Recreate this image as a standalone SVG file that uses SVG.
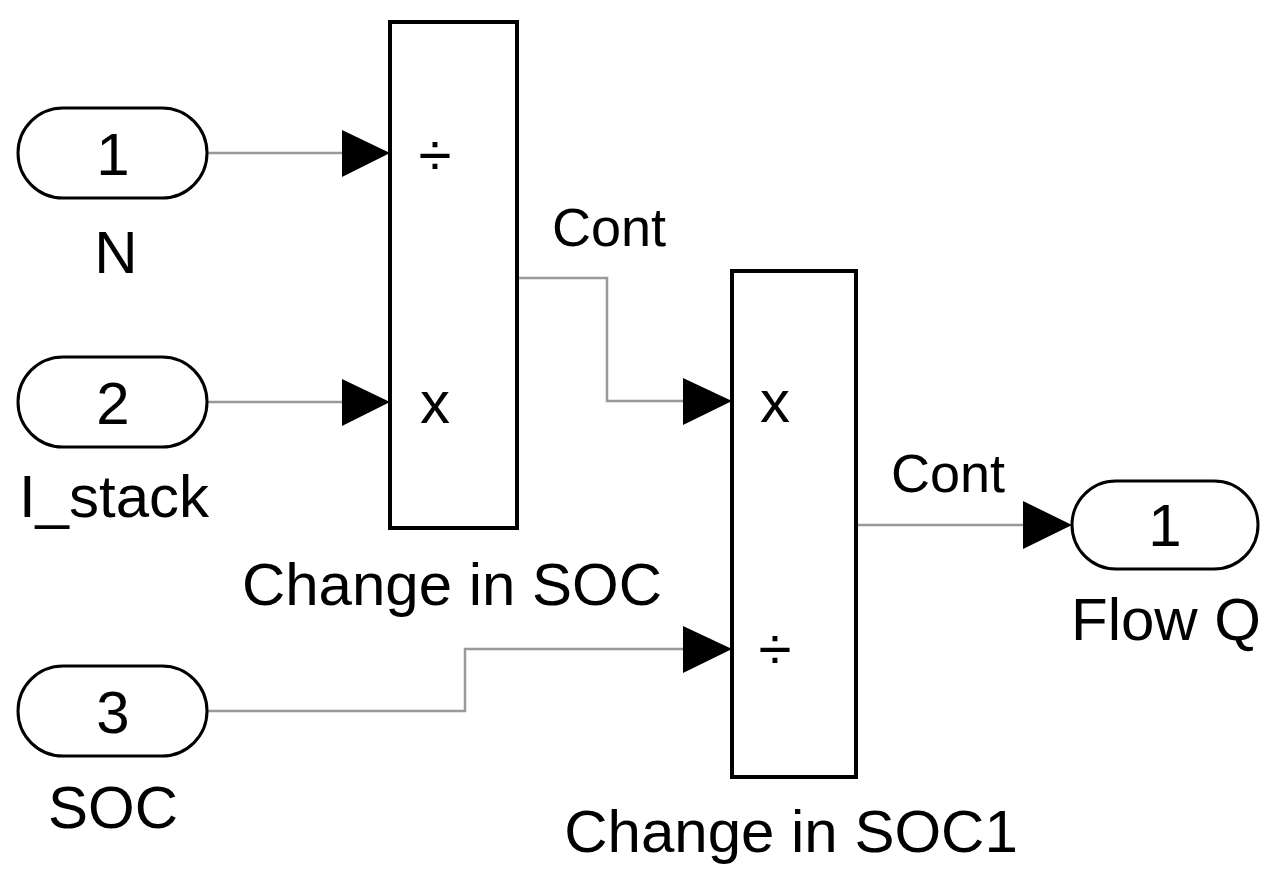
<svg xmlns="http://www.w3.org/2000/svg" width="1276" height="883" viewBox="0 0 1276 883">
<style>
.port{fill:#fff;stroke:#000;stroke-width:3}
.blk{fill:#fff;stroke:#000;stroke-width:4}
.t{font-family:"Liberation Sans",Arial,sans-serif;font-size:60px;fill:#000;text-anchor:middle}
.c{font-size:54px}
.w{fill:none;stroke:#999;stroke-width:2.5}
.ah{fill:#000}
</style>
<rect width="1276" height="883" fill="#fff"/>
<g id="connectors">
<polyline class="w" points="207,153 345,153"/>
<polygon class="ah" points="342,130 390,153 342,177"/>
<polyline class="w" points="207,402 345,402"/>
<polygon class="ah" points="342,379 390,402 342,426"/>
<polyline class="w" points="517,278 607,278 607,401 685,401"/>
<polygon class="ah" points="683,378 732,401 683,425"/>
<polyline class="w" points="207,711 465,711 465,649 685,649"/>
<polygon class="ah" points="683,626 732,649 683,673"/>
<polyline class="w" points="856,525 1025,525"/>
<polygon class="ah" points="1023,501 1072,525 1023,549"/>
<text class="t c" x="609" y="246">Cont</text>
<text class="t c" x="948" y="492">Cont</text>
</g>
<g id="in1">
<rect class="port" x="18" y="108" width="189" height="90" rx="45" ry="45"/>
<text class="t" x="113" y="175">1</text>
<text class="t" x="116" y="273">N</text>
</g>
<g id="in2">
<rect class="port" x="18" y="357" width="189" height="90" rx="45" ry="45"/>
<text class="t" x="113" y="424">2</text>
<text class="t" x="114" y="517">I_stack</text>
</g>
<g id="in3">
<rect class="port" x="18" y="666" width="189" height="90" rx="45" ry="45"/>
<text class="t" x="113" y="733">3</text>
<text class="t" x="113" y="828">SOC</text>
</g>
<g id="prod1">
<rect class="blk" x="390" y="22" width="127" height="506"/>
<text class="t" x="435" y="175">÷</text>
<text class="t" x="435" y="423">x</text>
<text class="t" x="452" y="605">Change in SOC</text>
</g>
<g id="prod2">
<rect class="blk" x="732" y="271" width="124" height="506"/>
<text class="t" x="775" y="422">x</text>
<text class="t" x="775" y="669">÷</text>
<text class="t" x="791" y="852">Change in SOC1</text>
</g>
<g id="out1">
<rect class="port" x="1072" y="481" width="186" height="88" rx="44" ry="44"/>
<text class="t" x="1165" y="546">1</text>
<text class="t" x="1166" y="640">Flow Q</text>
</g>
</svg>
